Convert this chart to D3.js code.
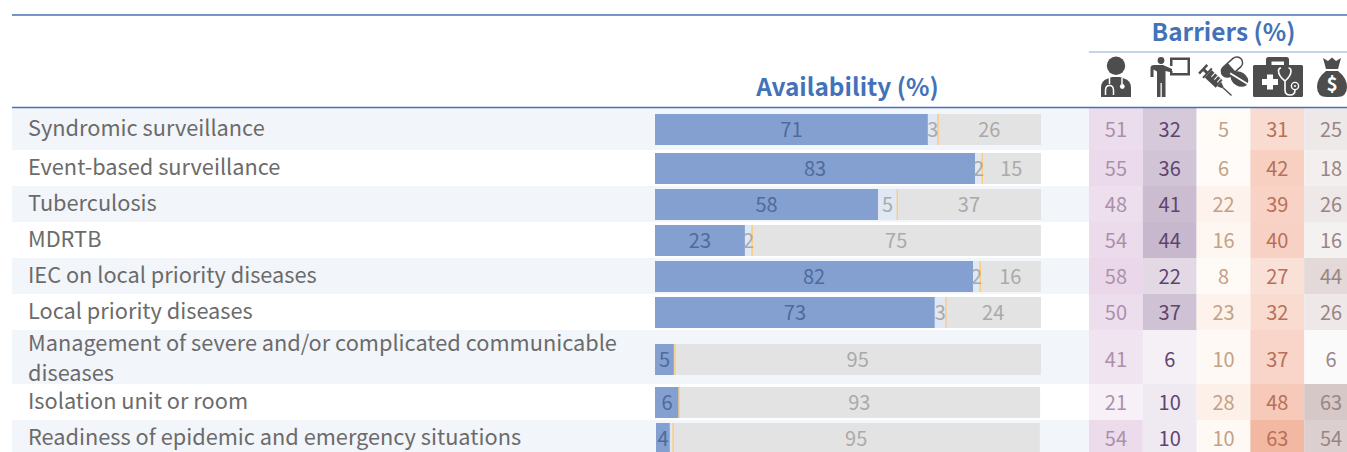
<!DOCTYPE html>
<html>
<head>
<meta charset="utf-8">
<script src="https://cdn.jsdelivr.net/npm/d3@7/dist/d3.min.js"></script>
<style>
html,body{margin:0;padding:0;background:#fff;overflow:hidden}
svg{display:block}
text{font-family:"Noto Sans CJK SC","Noto Sans",sans-serif}
</style>
</head>
<body>
<div id="chart"></div>
<script>
const categories = ["Syndromic surveillance","Event-based surveillance","Tuberculosis","MDRTB","IEC on local priority diseases","Local priority diseases","Management of severe and/or complicated communicable diseases","Isolation unit or room","Readiness of epidemic and emergency situations"];
// Availability shares (labels are these values rounded)
const availLead    = [0,0,0,0,0,0,0,0,0.26];
const availYes     = [70.7,82.9,57.8,23.3,82.4,72.5,4.9,6.2,3.6];
const availPartial = [2.85,2.1,5.2,2.07,2.07,3.1,0.5,0.26,1.04];
const availNo      = [26.45,15,37,74.6,15.5,24.4,94.6,93.3,94.8];
// Barriers
const barrierKeys = ["staff","training","supplies","equipment","finance"];
const barrierStaff     = [51,55,48,54,58,50,41,21,54];
const barrierTraining  = [32,36,41,44,22,37,6,10,10];
const barrierSupplies  = [5,6,22,16,8,23,10,28,10];
const barrierEquipment = [31,42,39,40,27,32,37,48,63];
const barrierFinance   = [25,18,26,16,44,26,6,63,54];
const barrierValues = [barrierStaff,barrierTraining,barrierSupplies,barrierEquipment,barrierFinance];
const barrierMax   = [60,44,28,63,63];
const barrierLow   = ["#ffffff","#fbf9fd","#fffefc","#ffffff","#ffffff"];
const barrierHigh  = ["#e9d7e9","#c8b8cd","#fdf0e8","#f3b8a2","#d5c8c7"];
const barrierInk   = ["#ab90ab","#5f4470","#c4a184","#b8705a","#9a8585"];

const W = 1347, H = 452;
const svg = d3.select("#chart").append("svg").attr("width",W).attr("height",H).attr("viewBox",`0 0 ${W} ${H}`);
const HEAD = "#4472b8";
const LABEL_SIZE = 21.75;

// row layout: label wrap decides the row height
const probe = svg.append("text").attr("font-size",LABEL_SIZE).attr("visibility","hidden");
function wrap(s,maxW){
  const lines=[];let cur="";
  s.split(" ").forEach(w=>{
    const t=cur?cur+" "+w:w;
    probe.text(t);
    if(probe.node().getComputedTextLength()>maxW&&cur){lines.push(cur);cur=w;}else cur=t;
  });
  lines.push(cur);return lines;
}
const wrapped = categories.map(c=>wrap(c,600));
probe.remove();
let yCursor=108;
const rows = categories.map((c,i)=>{
  const h = i===0?42:(wrapped[i].length>1?54:36);
  const pad = i===0?6:(wrapped[i].length>1?14:3);
  const r={i,c,lines:wrapped[i],top:yCursor,h,barTop:yCursor+pad};
  yCursor+=h;return r;
});
const BAR_H=31;

// stripes
svg.append("g").selectAll("rect").data(rows.filter(r=>r.i%2===0)).join("rect")
  .attr("x",12).attr("width",W-12).attr("y",r=>r.top).attr("height",r=>r.h).attr("fill","#f2f5fa");

// row labels
const lab = svg.append("g").selectAll("text").data(rows).join("text")
  .attr("x",28).attr("font-size",LABEL_SIZE).attr("fill","#6b6b6b");
lab.each(function(r){
  const n=r.lines.length, cy=r.top+r.h/2+(n>1?1:-1);
  d3.select(this).selectAll("tspan").data(r.lines).join("tspan")
    .attr("x",28).attr("y",(l,k)=>cy+(k-(n-1)/2)*30+7.5).text(l=>l);
});

// availability bars
const x = d3.scaleLinear().domain([0,100]).range([655,1041]);
const segs = [
 {key:"yes",vals:availYes,fill:"#84a0d0",ink:"#4f6a9b",nudge:0},
 {key:"partial",vals:availPartial,fill:"#e0e8f3",ink:"#aaaaaa",nudge:-0.5},
 {key:"no",vals:availNo,fill:"#e3e3e3",ink:"#aaaaaa",nudge:-0.7}];
const barG = svg.append("g").selectAll("g").data(rows).join("g");
barG.each(function(r){
  const g=d3.select(this);let cum=availLead[r.i];
  segs.forEach(s=>{
    const v=s.vals[r.i],x0=x(cum),x1=x(cum+v);
    g.append("rect").attr("x",x0).attr("y",r.barTop).attr("width",x1-x0).attr("height",BAR_H).attr("fill",s.fill);
    if(s.key==="partial"){
      g.append("rect").attr("x",x1-1.6).attr("y",r.barTop).attr("width",1.6).attr("height",BAR_H).attr("fill","#fdcb80");
    }
    s.x0=x0;s.x1=x1;cum+=v;
  });
  segs.forEach(s=>{
    const v=Math.round(s.vals[r.i]);
    if(v>=2) g.append("text").attr("x",(s.x0+s.x1)/2+s.nudge).attr("y",r.barTop+BAR_H/2+7)
      .attr("text-anchor","middle").attr("font-size",20).attr("fill",s.ink).text(v);
  });
});

// barriers heat table
const col = d3.scaleBand().domain(barrierKeys).range([1089,1358]);
barrierKeys.forEach((k,ci)=>{
  const color=d3.scaleLinear().domain([0,barrierMax[ci]]).range([barrierLow[ci],barrierHigh[ci]]);
  const g=svg.append("g");
  g.selectAll("rect").data(rows).join("rect")
    .attr("x",col(k)).attr("width",col.bandwidth()).attr("y",r=>r.top).attr("height",r=>r.h)
    .attr("fill",r=>color(barrierValues[ci][r.i]));
  g.selectAll("text").data(rows).join("text")
    .attr("x",col(k)+col.bandwidth()/2).attr("y",r=>r.barTop+BAR_H/2+7)
    .attr("text-anchor","middle").attr("font-size",20).attr("fill",barrierInk[ci])
    .text(r=>barrierValues[ci][r.i]);
});

// header rules and titles
svg.append("line").attr("x1",12).attr("x2",W).attr("y1",15).attr("y2",15).attr("stroke",HEAD).attr("stroke-width",1.5);
svg.append("line").attr("x1",12).attr("x2",W).attr("y1",107.5).attr("y2",107.5).attr("stroke",HEAD).attr("stroke-width",1.5);
svg.append("line").attr("x1",1089).attr("x2",W).attr("y1",52).attr("y2",52).attr("stroke","#8ba8d8").attr("stroke-width",1.2);
svg.append("text").attr("x",847.5).attr("y",96).attr("text-anchor","middle").attr("font-size",24.4).attr("font-weight",700).attr("fill",HEAD).text("Availability (%)");
svg.append("text").attr("x",1223.5).attr("y",41).attr("text-anchor","middle").attr("font-size",24.4).attr("font-weight",700).attr("fill",HEAD).text("Barriers (%)");

// icons
const ICON="#4d4d4d";
const ic=svg.append("g").attr("fill",ICON);
// doctor
ic.append("circle").attr("cx",1116).attr("cy",65.7).attr("r",9.2);
ic.append("path").attr("d","M1101 97V88Q1101 80.5 1108 78.5L1112 77H1120L1124 78.5Q1131 80.5 1131 88V97Z");
ic.append("path").attr("d","M1109.5 78V84M1105.5 95V90.5Q1105.5 85.5 1109.5 85.5Q1113.5 85.5 1113.5 90.5V95M1122 78V84").attr("fill","none").attr("stroke","#fff").attr("stroke-width",1.5);
ic.append("circle").attr("cx",1122.3).attr("cy",86.5).attr("r",2.4).attr("fill","#fff");
// presenter
ic.append("circle").attr("cx",1161).attr("cy",60.5).attr("r",3.4);
ic.append("path").attr("d","M1150.5 77V68Q1150.5 65 1154 65H1163L1172 69V72.5L1165.5 71V97H1161.8V83H1160.5V97H1157V71.5L1153.5 69.5V77Z");
ic.append("path").attr("d","M1170 66V57.5H1190V75.5H1170V71H1172.5V73H1187.5V60H1172.5V66Z");
// syringe
ic.append("g").attr("transform","translate(1203,69) rotate(43)").call(g=>{
  g.append("rect").attr("x",-1).attr("y",-6).attr("width",2.5).attr("height",12);
  g.append("rect").attr("x",1).attr("y",-1.5).attr("width",5).attr("height",3);
  g.append("rect").attr("x",5).attr("y",-6.5).attr("width",2).attr("height",13);
  g.append("rect").attr("x",7).attr("y",-5).attr("width",15).attr("height",10);
  g.append("path").attr("d","M22 -3L27 -1L27 1L22 3Z");
  g.append("rect").attr("x",27).attr("y",-0.7).attr("width",12).attr("height",1.4);
  g.append("rect").attr("x",11).attr("y",-5).attr("width",1).attr("height",5).attr("fill","#fff");
  g.append("rect").attr("x",15).attr("y",-5).attr("width",1).attr("height",5).attr("fill","#fff");
  g.append("rect").attr("x",19).attr("y",-5).attr("width",1).attr("height",5).attr("fill","#fff");
});
// capsule
ic.append("g").attr("transform","translate(1232,67) rotate(-42)").call(g=>{
  g.append("rect").attr("x",-13).attr("y",-6.5).attr("width",26).attr("height",13).attr("rx",6.5).attr("fill",ICON);
  g.append("path").attr("d","M-0.5 -5H6.5A5 5 0 0 1 6.5 5H-0.5Z").attr("fill","#fff");
});
// tablet
ic.append("g").attr("transform","translate(1239.5,79) rotate(32)").call(g=>{
  g.append("ellipse").attr("rx",9.5).attr("ry",7);
  g.append("rect").attr("x",-11).attr("y",-0.9).attr("width",22).attr("height",1.8).attr("fill","#fff");
});
// medical kit
ic.append("path").attr("d","M1266 65V59.5Q1266 57 1268.5 57H1286.5Q1289 57 1289 59.5V65H1284V61.5H1271.5V65Z");
ic.append("rect").attr("x",1253).attr("y",65).attr("width",50).attr("height",32).attr("rx",1.5);
ic.append("path").attr("d","M1267 75.5H1273V80H1278V86H1273V90.5H1267V86H1262V80H1267Z").attr("fill","#fff").attr("transform","translate(0,-1)");
ic.append("path").attr("d","M1281 68Q1278.5 68 1278.5 71Q1278.5 76 1285 81Q1291 76 1291 71Q1291 68 1288.5 68M1285 81V90Q1285 95 1290 95Q1295 95 1295 90").attr("fill","none").attr("stroke","#fff").attr("stroke-width",1.6);
ic.append("circle").attr("cx",1295).attr("cy",86).attr("r",3.6).attr("fill","none").attr("stroke","#fff").attr("stroke-width",1.4);
ic.append("circle").attr("cx",1295).attr("cy",86).attr("r",1).attr("fill","#fff");
// money bag
ic.append("path").attr("d","M1323 58L1328 61L1332 57.5L1336 61L1341 58L1338 69H1326Z");
ic.append("path").attr("d","M1326 71H1338Q1347 78 1347 87Q1347 97 1337 97H1327Q1317 97 1317 87Q1317 78 1326 71Z");
ic.append("text").attr("x",1332).attr("y",91).attr("text-anchor","middle").attr("font-size",19).attr("font-weight",700).attr("fill","#fff").text("$");
</script>
</body>
</html>
